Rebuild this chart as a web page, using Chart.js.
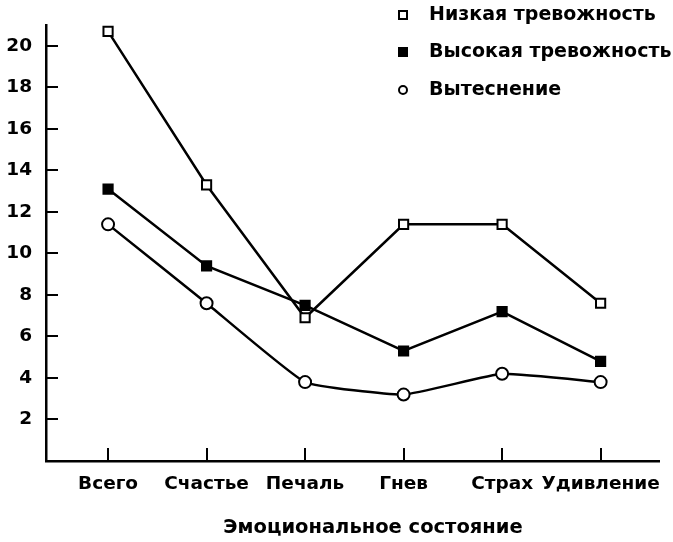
<!DOCTYPE html>
<html>
<head>
    <title>Эмоциональное состояние</title>
    <script src="https://cdn.jsdelivr.net/npm/chart.js"></script>
    <style>
        body { margin: 0; background: #fff; }
        #chart { display: block; }
    </style>
</head>
<body>
    <canvas id="chart" width="673" height="542"></canvas>
    <script>
        // данные
        const categories = ['Всего', 'Счастье', 'Печаль', 'Гнев', 'Страх', 'Удивление'];
        const lowAnxiety = [20.7, 13.3, 6.9, 11.4, 11.4, 7.6];
        const highAnxiety = [13.1, 9.4, 7.5, 5.3, 7.2, 4.8];
        const repression = [11.4, 7.6, 3.8, 3.2, 4.2, 3.8];
        const yTicks = [2, 4, 6, 8, 10, 12, 14, 16, 18, 20];
        const seriesNames = ['Низкая тревожность', 'Высокая тревожность', 'Вытеснение'];
        const axisTitle = 'Эмоциональное состояние';

        const FONT = '"DejaVu Sans", sans-serif';
        const toPoints = arr => arr.map((v, i) => ({ x: i, y: v }));

        // засечки внутрь области графика, подпись оси и легенда
        const extras = {
            id: 'extras',
            afterDraw(chart) {
                const ctx = chart.ctx;
                const xs = chart.scales.x, ys = chart.scales.y;
                ctx.save();
                ctx.strokeStyle = '#000';
                ctx.lineWidth = 2;
                yTicks.forEach(t => {
                    const py = Math.round(ys.getPixelForValue(t));
                    ctx.beginPath();
                    ctx.moveTo(xs.left, py);
                    ctx.lineTo(xs.left + 12, py);
                    ctx.stroke();
                });
                categories.forEach((c, i) => {
                    const px = Math.round(xs.getPixelForValue(i));
                    ctx.beginPath();
                    ctx.moveTo(px, ys.bottom);
                    ctx.lineTo(px, ys.bottom - 13);
                    ctx.stroke();
                });

                ctx.fillStyle = '#000';
                ctx.textAlign = 'center';
                ctx.textBaseline = 'middle';
                ctx.font = 'bold 19.5px ' + FONT;
                ctx.fillText(axisTitle, 373, 528);

                // легенда
                const lx = 403, ly = [15, 52, 90];
                ctx.font = 'bold 19px ' + FONT;
                ctx.textAlign = 'left';
                chart.data.datasets.forEach((ds, k) => {
                    const y = ly[k];
                    ctx.lineWidth = 2;
                    ctx.strokeStyle = '#000';
                    ctx.fillStyle = ds.pointBackgroundColor;
                    if (ds.pointStyle === 'circle') {
                        ctx.beginPath();
                        ctx.arc(lx, y, 4, 0, Math.PI * 2);
                        ctx.fill();
                        ctx.stroke();
                    } else {
                        ctx.fillRect(lx - 4, y - 4, 8, 8);
                        ctx.strokeRect(lx - 4, y - 4, 8, 8);
                    }
                    ctx.fillStyle = '#000';
                    ctx.fillText(ds.label, lx + 26, y);
                });
                ctx.restore();
            }
        };

        new Chart(document.getElementById('chart').getContext('2d'), {
            type: 'line',
            data: {
                datasets: [
                    {
                        label: seriesNames[0],
                        data: toPoints(lowAnxiety),
                        borderColor: '#000', borderWidth: 2.5,
                        pointStyle: 'rect', pointRadius: 6.5, pointBorderWidth: 2,
                        pointBackgroundColor: '#fff', pointBorderColor: '#000'
                    },
                    {
                        label: seriesNames[1],
                        data: toPoints(highAnxiety),
                        borderColor: '#000', borderWidth: 2.5,
                        pointStyle: 'rect', pointRadius: 6.5, pointBorderWidth: 2,
                        pointBackgroundColor: '#000', pointBorderColor: '#000'
                    },
                    {
                        label: seriesNames[2],
                        data: toPoints(repression),
                        borderColor: '#000', borderWidth: 2.5, tension: 0.12,
                        pointStyle: 'circle', pointRadius: 6, pointBorderWidth: 2,
                        pointBackgroundColor: '#fff', pointBorderColor: '#000'
                    }
                ]
            },
            options: {
                responsive: false,
                animation: false,
                layout: { padding: { top: 7, right: 13, left: 0, bottom: 0 } },
                plugins: { legend: { display: false }, tooltip: { enabled: false } },
                scales: {
                    x: {
                        type: 'linear', min: -0.63, max: 5.6,
                        afterBuildTicks: s => { s.ticks = categories.map((c, i) => ({ value: i })); },
                        afterFit: s => { s.height = 81; },
                        grid: { display: false, drawTicks: false },
                        border: { display: true, color: '#000', width: 2.5 },
                        ticks: {
                            color: '#000', padding: 12, maxRotation: 0, autoSkip: false,
                            font: { family: FONT, size: 18.5, weight: 'bold' },
                            callback: v => categories[v]
                        }
                    },
                    y: {
                        min: 0, max: 21,
                        afterBuildTicks: s => { s.ticks = yTicks.map(v => ({ value: v })); },
                        afterFit: s => { s.width = 46; },
                        grid: { display: false, drawTicks: false },
                        border: { display: true, color: '#000', width: 2.5 },
                        ticks: {
                            color: '#000', padding: 14,
                            font: { family: FONT, size: 18.5, weight: 'bold' }
                        }
                    }
                }
            },
            plugins: [extras]
        });
    </script>
</body>
</html>
